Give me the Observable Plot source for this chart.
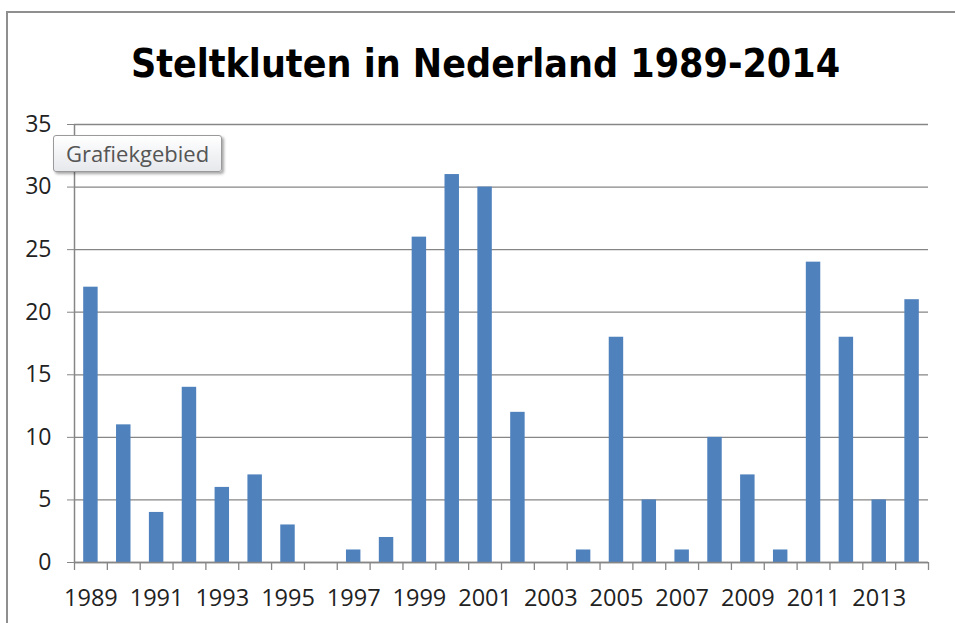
<!DOCTYPE html>
<html>
<head>
<meta charset="utf-8">
<script src="https://cdn.jsdelivr.net/npm/d3@7"></script>
<script src="https://cdn.jsdelivr.net/npm/@observablehq/plot@0.6"></script>
<style>
  html, body { margin: 0; padding: 0; background: #fff; overflow: hidden; }
  #wrap { position: relative; width: 955px; height: 623px; overflow: hidden; background: #fff; }
  #border { position: absolute; left: 0; top: 0; pointer-events: none; }
  #title { position: relative; height: 100px; width: 955px; text-align: center;
           font-family: "DejaVu Sans Condensed", "Open Sans", sans-serif;
           font-weight: bold; font-size: 39px; line-height: 100px; color: #000;
           padding-top: 14px; padding-left: 16px; box-sizing: border-box; }
  #tip { position: absolute; left: 53px; top: 135px; width: 169px; height: 37px;
         border: 1px solid #9a9a9a; border-radius: 3px;
         background: linear-gradient(#ffffff, #e6e8ec);
         box-shadow: 2px 2px 3px rgba(0,0,0,0.35);
         font-family: "Open Sans", sans-serif; font-size: 22px; color: #555;
         line-height: 35px; text-align: center; box-sizing: border-box; }
  #chart svg { display: block; }
</style>
</head>
<body>
<div id="wrap">
  <div id="title">Steltkluten in Nederland 1989-2014</div>
  <div id="chart"></div>
  <svg id="border" width="955" height="623"><path d="M955,12H7V623" fill="none" stroke="#8f8f8f" stroke-width="2"/></svg>
  <div id="tip">Grafiekgebied</div>
</div>
<script>
const years = [1989,1990,1991,1992,1993,1994,1995,1996,1997,1998,1999,2000,2001,2002,2003,2004,2005,2006,2007,2008,2009,2010,2011,2012,2013,2014];
const counts = [22,11,4,14,6,7,3,0,1,2,26,31,30,12,0,1,18,5,1,10,7,1,24,18,5,21];
const yTicks = [0,5,10,15,20,25,30,35];
const xLabelYears = [1989,1991,1993,1995,1997,1999,2001,2003,2005,2007,2009,2011,2013];

const data = years.map((y, i) => ({year: y, count: counts[i]}));
const boundaries = [years[0] - 0.5, ...years.map(y => y + 0.5)];
const half = 0.22;
const gridColor = "#868686";

const chart = Plot.plot({
  width: 955,
  height: 523,
  marginLeft: 74,
  marginRight: 27,
  marginTop: 24,
  marginBottom: 61,
  style: { fontFamily: "'Open Sans', sans-serif", color: "#222", background: "#fff" },
  x: { type: "linear", domain: [years[0] - 0.5, years[years.length - 1] + 0.5] },
  y: { domain: [0, 35] },
  marks: [
    Plot.gridY(yTicks, { stroke: gridColor, strokeOpacity: 1, strokeWidth: 1.3 }),
    Plot.axisY(yTicks, { tickSize: 7, tickPadding: 16, fontSize: 23, stroke: gridColor, strokeOpacity: 1, label: null, tickFormat: d => d, fill: "#222" }),
    Plot.rectY(data, { x1: d => d.year - half, x2: d => d.year + half, y: "count", fill: "#4F81BD" }),
    Plot.ruleX([boundaries[0]], { stroke: gridColor, strokeWidth: 1.5 }),
    Plot.ruleY([0], { stroke: gridColor, strokeWidth: 1.5 }),
    Plot.axisX(boundaries, { tickSize: 8, tickFormat: () => "", stroke: gridColor, strokeOpacity: 1, strokeWidth: 1.3, label: null }),
    Plot.axisX(xLabelYears, { tickSize: 0, tickPadding: 27, fontSize: 23.5, tickFormat: d => String(d), label: null, fill: "#222" })
  ]
});
document.getElementById("chart").appendChild(chart);
</script>
</body>
</html>
